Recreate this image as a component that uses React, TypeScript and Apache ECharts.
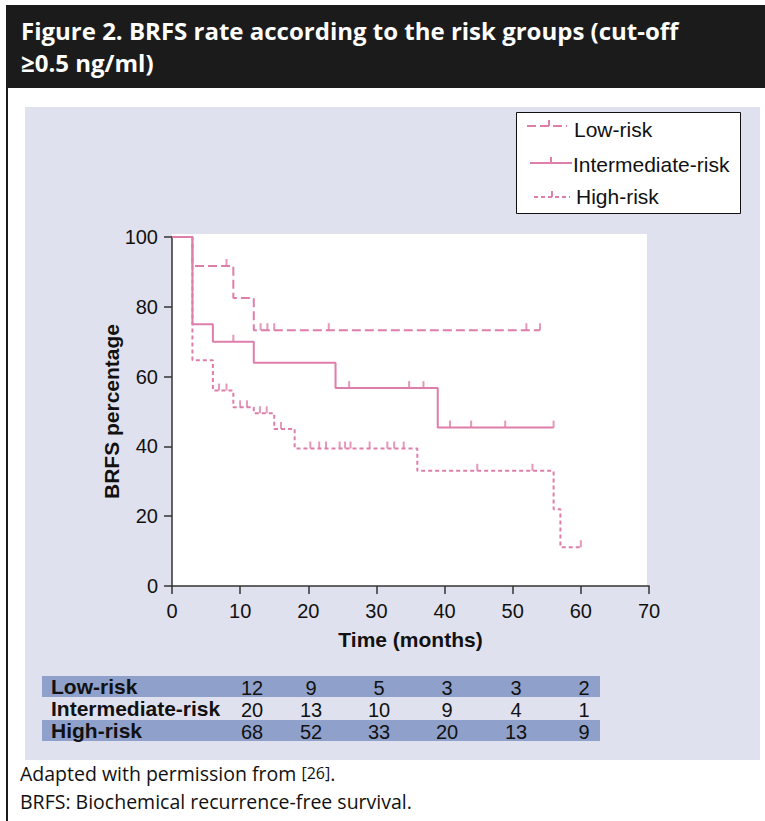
import React, { useEffect, useRef } from 'react';
import * as echarts from 'echarts';

// ---------- data ----------
const xTicks = [0, 10, 20, 30, 40, 50, 60, 70];
const yTicks = [0, 20, 40, 60, 80, 100];

const lowTimes = [0, 3, 9, 12, 54];
const lowSurv = [100, 91.7, 82.5, 73.3, 73.3];
const lowCensorTimes = [8, 13, 14, 15, 23, 52, 54];
const lowCensorSurv = [91.7, 73.3, 73.3, 73.3, 73.3, 73.3, 73.3];

const intTimes = [0, 3, 6, 12, 24, 39, 56];
const intSurv = [100, 75, 70, 64, 56.7, 45.4, 45.4];
const intCensorTimes = [9, 26, 34.8, 36.9, 40.8, 43.9, 48.9, 56];
const intCensorSurv = [70, 56.7, 56.7, 56.7, 45.4, 45.4, 45.4, 45.4];

const highTimes = [0, 3, 6, 9, 12, 15, 18, 36, 56, 57, 60];
const highSurv = [100, 64.7, 56, 51.2, 49.5, 45, 39.4, 33, 22, 11.1, 11.1];
const highCensorTimes = [6.9, 8, 10, 11, 12.9, 13.9, 16, 20.3, 21.6, 22.6, 24.6, 25.4, 26.2, 29, 31.6, 32.6, 34, 44.8, 52.9, 60];
const highCensorSurv = [56, 56, 51.2, 51.2, 49.5, 49.5, 45, 39.4, 39.4, 39.4, 39.4, 39.4, 39.4, 39.4, 39.4, 39.4, 39.4, 33, 33, 11.1];

const groupNames = ['Low-risk', 'Intermediate-risk', 'High-risk'];
const lowAtRisk = [12, 9, 5, 3, 3, 2];
const intAtRisk = [20, 13, 10, 9, 4, 1];
const highAtRisk = [68, 52, 33, 20, 13, 9];

const titleLine1 = 'Figure 2. BRFS rate according to the risk groups (cut-off';
const titleLine2 = '\u22650.5 ng/ml)';
const footer1 = 'Adapted with permission from {s|[26]}.';
const footer2 = 'BRFS: Biochemical recurrence-free survival.';

// ---------- styles ----------
const PINK = '#de7eab';
const SANS = '"Liberation Sans", Arial, Helvetica, sans-serif';
const HEAD = '"Open Sans", "Noto Sans", sans-serif';
const lowDash = [9, 4];
const highDash = [4, 3];

const pair = (xs: number[], ys: number[]) => xs.map((x, i) => [x, ys[i]]);

function txt(text: string, x: number, y: number, o: any = {}) {
  const align = o.align || 'left';
  const va = o.va || 'middle';
  return {
    type: 'text',
    z: 5,
    style: {
      text,
      x,
      y,
      fill: o.fill || '#111',
      fontSize: o.fontSize || 20,
      fontFamily: o.fontFamily || SANS,
      fontWeight: o.fontWeight || 'normal',
      align,
      textAlign: align,
      verticalAlign: va,
      textVerticalAlign: va,
      rich: o.rich,
    },
  };
}

export default function App() {
  const ref = useRef<HTMLDivElement>(null);

  useEffect(() => {
    if (!ref.current) return;
    const chart = echarts.init(ref.current, null, { renderer: 'svg' });

    const colX = [252, 311, 379, 447, 516, 584];
    const rowY = [686.5, 708.5, 730.5];
    const tableRowsData = [lowAtRisk, intAtRisk, highAtRisk];

    const graphics: any[] = [
      // header
      { type: 'rect', z: -5, shape: { x: 6, y: 5, width: 759, height: 83 }, style: { fill: '#1b1b1b' } },
      { type: 'rect', z: -5, shape: { x: 6, y: 88, width: 2, height: 733 }, style: { fill: '#1b1b1b' } },
      txt(titleLine1, 21, 30, { fill: '#ffffff', fontSize: 24, fontFamily: HEAD, fontWeight: 'bold' }),
      txt(titleLine2, 21, 62, { fill: '#ffffff', fontSize: 24, fontFamily: HEAD, fontWeight: 'bold' }),
      // panel
      { type: 'rect', z: -5, shape: { x: 25, y: 107, width: 735, height: 653 }, style: { fill: '#e0e1ee' } },
      // plot background
      { type: 'rect', z: -4, shape: { x: 172, y: 234, width: 475, height: 352 }, style: { fill: '#ffffff' } },
      // legend box
      { type: 'rect', z: 3, shape: { x: 516.5, y: 112.5, width: 224, height: 101 }, style: { fill: '#ffffff', stroke: '#111', lineWidth: 1 } },
      { type: 'line', z: 4, shape: { x1: 527, y1: 126, x2: 567, y2: 126 }, style: { stroke: PINK, lineWidth: 2, lineDash: lowDash } },
      { type: 'line', z: 4, shape: { x1: 549, y1: 120, x2: 549, y2: 126 }, style: { stroke: PINK, lineWidth: 2 } },
      { type: 'line', z: 4, shape: { x1: 530, y1: 163, x2: 572, y2: 163 }, style: { stroke: PINK, lineWidth: 2 } },
      { type: 'line', z: 4, shape: { x1: 551, y1: 157, x2: 551, y2: 163 }, style: { stroke: PINK, lineWidth: 2 } },
      { type: 'line', z: 4, shape: { x1: 534, y1: 197, x2: 570, y2: 197 }, style: { stroke: PINK, lineWidth: 2, lineDash: highDash } },
      { type: 'line', z: 4, shape: { x1: 552, y1: 191, x2: 552, y2: 197 }, style: { stroke: PINK, lineWidth: 2 } },
      txt(groupNames[0], 574, 129, { fontSize: 21 }),
      txt(groupNames[1], 573, 164, { fontSize: 21 }),
      txt(groupNames[2], 576, 196, { fontSize: 21 }),
      // table bands
      { type: 'rect', z: -3, shape: { x: 42, y: 676, width: 558, height: 21 }, style: { fill: '#8fa0ca' } },
      { type: 'rect', z: -3, shape: { x: 42, y: 720, width: 558, height: 21 }, style: { fill: '#8fa0ca' } },
      // footer
      txt(footer1, 20, 773, { fontSize: 19.5, fontFamily: HEAD, rich: { s: { fontSize: 16, fontFamily: HEAD, fill: '#111' } } }),
      txt(footer2, 20, 801, { fontSize: 19.5, fontFamily: HEAD }),
    ];
    groupNames.forEach((name, r) => {
      graphics.push(txt(name, 51, rowY[r], { fontSize: 21, fontWeight: 'bold' }));
      tableRowsData[r].forEach((v, c) => {
        graphics.push(txt(String(v), colX[c], rowY[r] + 1, { fontSize: 20, align: 'center' }));
      });
    });

    const lineSeries = (name: string, data: number[][], dash: any) => ({
      name,
      type: 'line',
      step: 'end',
      data,
      showSymbol: false,
      symbol: 'none',
      z: 3,
      lineStyle: { color: PINK, width: 2, type: dash },
    });
    const censorSeries = (name: string, data: number[][]) => ({
      name: name + ' censored',
      type: 'scatter',
      data,
      symbol: 'rect',
      symbolSize: [2, 7],
      symbolOffset: [0, '-50%'],
      itemStyle: { color: PINK },
      z: 4,
    });

    chart.setOption({
      animation: false,
      backgroundColor: '#ffffff',
      grid: { left: 172, right: 116, top: 237, bottom: 235 },
      xAxis: {
        type: 'value',
        min: xTicks[0],
        max: xTicks[xTicks.length - 1],
        interval: 10,
        name: 'Time (months)',
        nameLocation: 'middle',
        nameGap: 43,
        nameMoveOverlap: false,
        nameTextStyle: { fontSize: 21, fontWeight: 'bold', fontFamily: SANS, color: '#111' },
        axisLine: { show: true, onZero: false, lineStyle: { color: '#333', width: 1.5 } },
        axisTick: { show: true, length: 8, lineStyle: { color: '#333', width: 1.5 } },
        axisLabel: { fontSize: 20, fontFamily: SANS, color: '#111', margin: 15 },
        splitLine: { show: false },
      },
      yAxis: {
        type: 'value',
        min: yTicks[0],
        max: yTicks[yTicks.length - 1],
        interval: 20,
        name: 'BRFS percentage',
        nameLocation: 'middle',
        nameGap: 50,
        nameMoveOverlap: false,
        nameRotate: 90,
        nameTextStyle: { fontSize: 21, fontWeight: 'bold', fontFamily: SANS, color: '#111' },
        axisLine: { show: true, onZero: false, lineStyle: { color: '#333', width: 1.5 } },
        axisTick: { show: true, length: 8, lineStyle: { color: '#333', width: 1.5 } },
        axisLabel: { fontSize: 20, fontFamily: SANS, color: '#111', margin: 14 },
        splitLine: { show: false },
      },
      graphic: { elements: graphics },
      series: [
        lineSeries(groupNames[0], pair(lowTimes, lowSurv), lowDash),
        lineSeries(groupNames[1], pair(intTimes, intSurv), 'solid'),
        lineSeries(groupNames[2], pair(highTimes, highSurv), highDash),
        censorSeries(groupNames[0], pair(lowCensorTimes, lowCensorSurv)),
        censorSeries(groupNames[1], pair(intCensorTimes, intCensorSurv)),
        censorSeries(groupNames[2], pair(highCensorTimes, highCensorSurv)),
      ],
    });

    return () => chart.dispose();
  }, []);

  return (
    <div
      ref={ref}
      style={{ position: 'absolute', left: 0, top: 0, width: 765, height: 821 }}
    />
  );
}
